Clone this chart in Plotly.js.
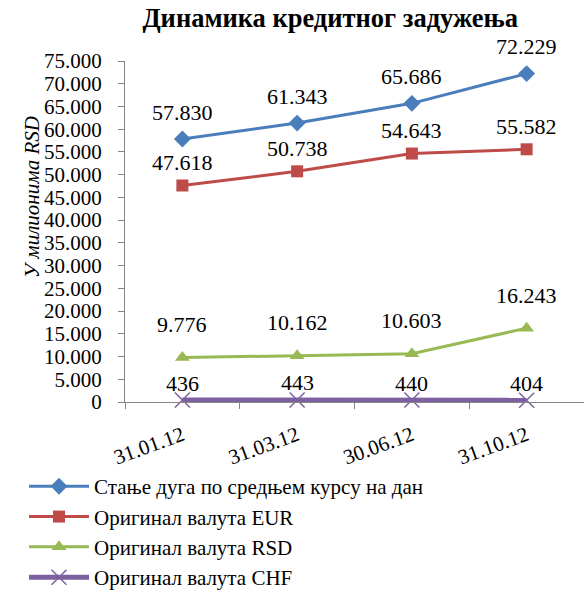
<!DOCTYPE html>
<html>
<head>
<meta charset="utf-8">
<script src="https://cdn.plot.ly/plotly-3.0.1.min.js"></script>
<style>
html,body{margin:0;padding:0;background:#fff;}
#chart{width:584px;height:591px;}
</style>
</head>
<body>
<div id="chart"></div>
<script>
const categories = ['31.01.12', '31.03.12', '30.06.12', '31.10.12'];
const seriesNames = [
  'Стање дуга по средњем курсу на дан',
  'Оригинал валута EUR',
  'Оригинал валута RSD',
  'Оригинал валута CHF'
];
const debtTotal = [57830, 61343, 65686, 72229];
const origEUR = [47618, 50738, 54643, 55582];
const origRSD = [9776, 10162, 10603, 16243];
const origCHF = [436, 443, 440, 404];
const yTickValues = [0,5000,10000,15000,20000,25000,30000,35000,40000,45000,50000,55000,60000,65000,70000,75000];

const FONT = 'Liberation Serif';
const styles = [
  {color:'#4A7EBB', width:3, symbol:'diamond', size:13, shift:27},
  {color:'#BE4B48', width:3, symbol:'square', size:12, shift:23},
  {color:'#98B954', width:3, symbol:'triangle-up', size:13, shift:33},
  {color:'#7D60A0', width:5, symbol:'x-thin-open', size:15, shift:17}
];
const seriesData = [debtTotal, origEUR, origRSD, origCHF];

function fmt(n){ return String(n).replace(/\B(?=(\d{3})+(?!\d))/g, '.'); }

const traces = seriesData.map((vals, i) => ({
  type:'scatter', mode:'lines+markers', name: seriesNames[i],
  x: categories, y: vals,
  line:{color:styles[i].color, width:styles[i].width},
  marker:{symbol:styles[i].symbol, size:styles[i].size, color:styles[i].color,
          line:{color:styles[i].color, width: styles[i].symbol==='x-thin-open'?1.5:0}},
  cliponaxis:false
}));

const annotations = [];
seriesData.forEach((vals, i) => {
  vals.forEach((v, j) => {
    annotations.push({x: categories[j], y: v, xref:'x', yref:'y', text: fmt(v),
      showarrow:false, yshift: styles[i].shift, font:{family:FONT, size:22, color:'#000'}});
  });
});
annotations.push({xref:'paper', yref:'paper', x:-0.233, y:0.601, textangle:-90,
  text:'<i>У милионима RSD</i>', showarrow:false, font:{family:FONT, size:21, color:'#000'}});

const layout = {
  width:584, height:591,
  font:{family:FONT, color:'#000'},
  margin:{l:125, r:0, t:61, b:189, autoexpand:false},
  paper_bgcolor:'#fff', plot_bgcolor:'#fff',
  separators:',.',
  title:{text:'<b>Динамика кредитног задужења</b>', font:{family:FONT, size:26.5, color:'#000'},
         x:0.447, xref:'paper', y:0.97, yanchor:'middle', xanchor:'center'},
  showlegend:true,
  legend:{x:-0.22, xanchor:'left', y:-0.188, yanchor:'top', orientation:'v',
          font:{family:FONT, size:21, color:'#000'}, itemwidth:60, tracegroupgap:0, bgcolor:'rgba(0,0,0,0)'},
  xaxis:{type:'category', range:[-0.5,3.5], showgrid:false, zeroline:false, automargin:false,
         showline:true, linecolor:'#868686', linewidth:1.3,
         ticks:'outside', tickson:'boundaries', ticklen:6, tickcolor:'#868686',
         tickangle:-20, ticklabelstandoff:12, tickfont:{family:FONT, size:21, color:'#000'}},
  yaxis:{range:[0,75000], tickvals:yTickValues, tickformat:',d', showgrid:false, zeroline:false, automargin:false,
         showline:true, linecolor:'#868686', linewidth:1.3,
         ticks:'outside', ticklen:6, tickcolor:'#868686', ticklabelstandoff:12,
         tickfont:{family:FONT, size:21, color:'#000'}},
  annotations: annotations
};

Plotly.newPlot('chart', traces, layout, {displayModeBar:false});
</script>
</body>
</html>
